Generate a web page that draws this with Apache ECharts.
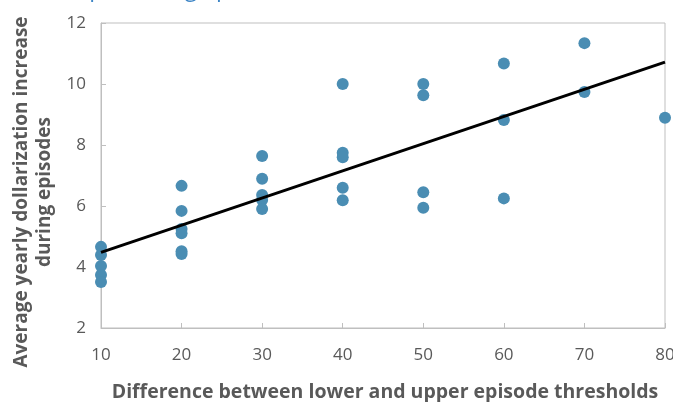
<!DOCTYPE html>
<html>
<head>
<meta charset="utf-8">
<script src="https://cdn.jsdelivr.net/npm/echarts@6/dist/echarts.min.js"></script>
<style>
  html, body { margin: 0; padding: 0; background: #fff; }
  #chart { width: 673px; height: 402px; }
</style>
</head>
<body>
<div id="chart"></div>
<script>
// 散点数据：门槛差（x）与年均美元化增幅（y）
var thresholdDiff = [10, 10, 10, 10, 10,
                     20, 20, 20, 20, 20, 20,
                     30, 30, 30, 30, 30,
                     40, 40, 40, 40, 40,
                     50, 50, 50, 50,
                     60, 60, 60,
                     70, 70,
                     80];
var dollarIncrease = [4.66, 4.39, 4.03, 3.74, 3.51,
                      6.66, 5.84, 5.25, 5.11, 4.52, 4.43,
                      7.64, 6.89, 6.36, 6.20, 5.90,
                      10.0, 7.75, 7.60, 6.60, 6.19,
                      10.0, 9.63, 6.45, 5.94,
                      10.67, 8.82, 6.25,
                      11.34, 9.74,
                      8.89];
var xTicks = [10, 20, 30, 40, 50, 60, 70, 80];
var yTicks = [2, 4, 6, 8, 10, 12];

// 线性趋势线（最小二乘）
var n = thresholdDiff.length, sx = 0, sy = 0, sxx = 0, sxy = 0;
for (var i = 0; i < n; i++) {
  sx += thresholdDiff[i]; sy += dollarIncrease[i];
  sxx += thresholdDiff[i] * thresholdDiff[i];
  sxy += thresholdDiff[i] * dollarIncrease[i];
}
var slope = (n * sxy - sx * sy) / (n * sxx - sx * sx);
var intercept = (sy - slope * sx) / n;
var xFirst = xTicks[0], xLast = xTicks[xTicks.length - 1];
var trend = [[xFirst, intercept + slope * xFirst], [xLast, intercept + slope * xLast]];

var points = thresholdDiff.map(function (x, i) { return [x, dollarIncrease[i]]; });

var font = '"Open Sans", "Noto Sans", sans-serif';
var chart = echarts.init(document.getElementById('chart'));
var option = {
  animation: false,
  textStyle: { fontFamily: font },
  grid: {
    left: 101, right: 8, top: 23, bottom: 74,
    outerBoundsMode: 'none',
    containLabel: false,
    show: true, borderColor: '#bfbfbf', borderWidth: 1
  },
  graphic: [
    {
      type: 'text', x: 56, y: -22,
      style: {
        text: '(In percentage points)', fill: '#3d85c6', font: '23px ' + font,
        verticalAlign: 'top'
      }
    },
    {
      type: 'text', x: 33, y: 192, rotation: Math.PI / 2,
      style: {
        text: 'Average yearly dollarization increase\nduring episodes',
        fill: '#595959', font: 'bold 19px ' + font,
        align: 'center', verticalAlign: 'middle', lineHeight: 23
      }
    },
    {
      type: 'text', x: 385, y: 392,
      style: {
        text: 'Difference between lower and upper episode thresholds',
        fill: '#595959', font: 'bold 19.5px ' + font,
        align: 'center', verticalAlign: 'middle'
      }
    }
  ],
  xAxis: {
    type: 'value', min: xFirst, max: xLast, interval: 10,
    axisLine: { show: true, lineStyle: { color: '#bfbfbf', width: 1 } },
    axisTick: { show: true, inside: true, length: 5, lineStyle: { color: '#bfbfbf' } },
    axisLabel: { color: '#595959', fontSize: 17, margin: 19 },
    splitLine: { show: false }
  },
  yAxis: {
    type: 'value', min: yTicks[0], max: yTicks[yTicks.length - 1], interval: 2,
    axisLine: { show: true, lineStyle: { color: '#bfbfbf', width: 1 } },
    axisTick: { show: true, inside: true, length: 5, lineStyle: { color: '#bfbfbf' } },
    axisLabel: { color: '#595959', fontSize: 17, margin: 15 },
    splitLine: { show: false }
  },
  series: [
    {
      type: 'line',
      data: trend,
      symbol: 'none',
      lineStyle: { color: '#000', width: 3 },
      z: 3
    },
    {
      type: 'scatter',
      data: points,
      symbolSize: 12,
      itemStyle: { color: '#4a8db3', opacity: 1 },
      z: 2
    }
  ]
};
chart.setOption(option);
</script>
</body>
</html>
